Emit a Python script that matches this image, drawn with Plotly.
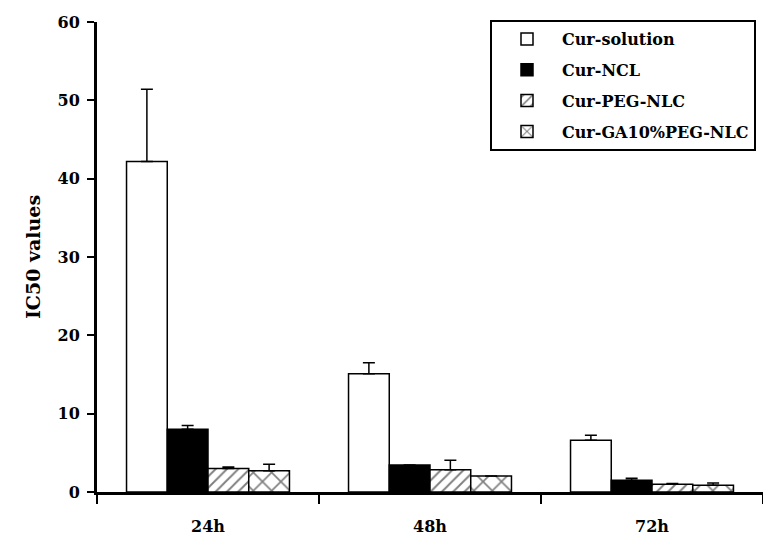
import plotly.graph_objects as go

categories = ["24h", "48h", "72h"]
series_names = ["Cur-solution", "Cur-NCL", "Cur-PEG-NLC", "Cur-GA10%PEG-NLC"]
cur_solution = [42.2, 15.1, 6.6]
cur_solution_err = [9.2, 1.4, 0.65]
cur_ncl = [8.0, 3.45, 1.5]
cur_ncl_err = [0.5, 0.0, 0.25]
cur_peg_nlc = [3.0, 2.85, 1.0]
cur_peg_nlc_err = [0.2, 1.2, 0.1]
cur_ga_peg_nlc = [2.7, 2.05, 0.85]
cur_ga_peg_nlc_err = [0.85, 0.0, 0.3]
y_ticks = [0, 10, 20, 30, 40, 50, 60]

values = [cur_solution, cur_ncl, cur_peg_nlc, cur_ga_peg_nlc]
errors = [cur_solution_err, cur_ncl_err, cur_peg_nlc_err, cur_ga_peg_nlc_err]
fills = ["white", "black", "white", "white"]
patterns = ["", "", "/", "x"]
pattern_sizes = [0, 0, 8, 13]

FONT = "DejaVu Serif"

fig = go.Figure()
for i, name in enumerate(series_names):
    fig.add_trace(go.Bar(
        name=name,
        x=categories,
        y=values[i],
        legendgroup=name,
        marker=dict(
            color=fills[i],
            line=dict(color="black", width=1.5),
            pattern=dict(shape=patterns[i], fgcolor="black", bgcolor="white",
                         size=pattern_sizes[i], solidity=0.24,
                         fillmode="overlay") if patterns[i] else None,
        ),
        error_y=dict(type="data", symmetric=False, array=errors[i],
                     arrayminus=[0] * len(errors[i]),
                     color="black", thickness=1.5, width=6),
    ))

fig.update_layout(
    width=763, height=543,
    margin=dict(l=97, r=0, t=22, b=51, autoexpand=False),
    plot_bgcolor="white", paper_bgcolor="white",
    barmode="group", bargap=0.266, bargroupgap=0,
    font=dict(family=FONT, color="black"),
    showlegend=True,
    legend=dict(
        x=(490 - 97) / 666, y=1.004, xanchor="left", yanchor="top",
        bordercolor="black", borderwidth=2, bgcolor="white",
        font=dict(family=FONT, size=16, color="black", weight="bold"),
        tracegroupgap=7, itemwidth=60,
    ),
    xaxis=dict(
        type="category", categoryorder="array", categoryarray=categories,
        range=[-0.5, 2.5],
        showline=True, linecolor="black", linewidth=3,
        ticks="outside", tickson="boundaries", ticklen=9, tickwidth=2, tickcolor="black",
        ticklabelstandoff=18,
        tickfont=dict(family=FONT, size=16, color="black", weight="bold"),
        showgrid=False, zeroline=False,
    ),
    yaxis=dict(
        range=[0, 60], tickvals=y_ticks,
        showline=True, linecolor="black", linewidth=3,
        ticks="outside", ticklen=7, tickwidth=2, tickcolor="black",
        ticklabelstandoff=4,
        tickfont=dict(family=FONT, size=16, color="black", weight="bold"),
        showgrid=False, zeroline=False,
        title=dict(text="IC50 values", standoff=12,
                   font=dict(family=FONT, size=19, color="black", weight="bold")),
    ),
)

fig.write_html("out.html")
